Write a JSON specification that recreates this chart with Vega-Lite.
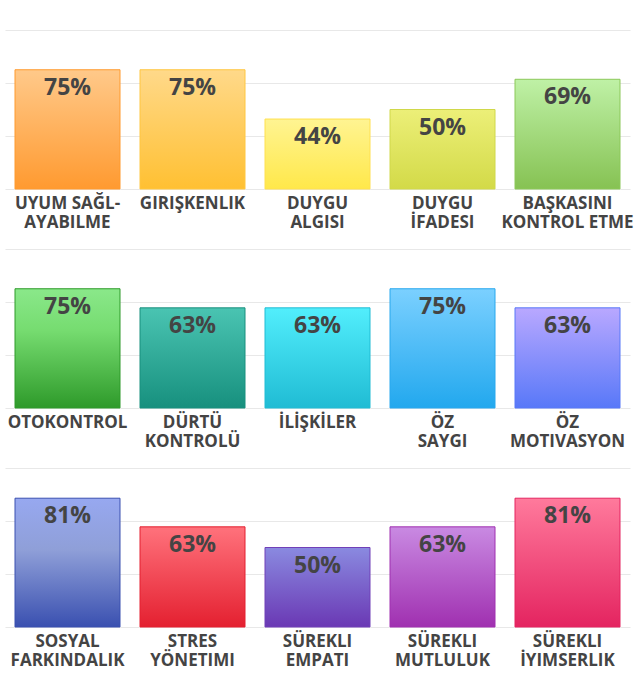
{
  "$schema": "https://vega.github.io/schema/vega-lite/v6.json",
  "background": "white",
  "padding": {"top": 30, "left": 5, "right": 5, "bottom": 0},
  "autosize": {"type": "pad"},
  "bounds": "flush",
  "spacing": 60,
  "data": {
    "values": [
      {"row": 1, "name": "UYUM SAĞL-|AYABILME", "value": 0.75},
      {"row": 1, "name": "GIRIŞKENLIK", "value": 0.75},
      {"row": 1, "name": "DUYGU|ALGISI", "value": 0.44},
      {"row": 1, "name": "DUYGU|İFADESI", "value": 0.50},
      {"row": 1, "name": "BAŞKASINI|KONTROL ETME", "value": 0.69},
      {"row": 2, "name": "OTOKONTROL", "value": 0.75},
      {"row": 2, "name": "DÜRTÜ|KONTROLÜ", "value": 0.63},
      {"row": 2, "name": "İLİŞKİLER", "value": 0.63},
      {"row": 2, "name": "ÖZ|SAYGI", "value": 0.75},
      {"row": 2, "name": "ÖZ|MOTIVASYON", "value": 0.63},
      {"row": 3, "name": "SOSYAL|FARKINDALIK", "value": 0.81},
      {"row": 3, "name": "STRES|YÖNETIMI", "value": 0.63},
      {"row": 3, "name": "SÜREKLI|EMPATI", "value": 0.50},
      {"row": 3, "name": "SÜREKLI|MUTLULUK", "value": 0.63},
      {"row": 3, "name": "SÜREKLI|İYIMSERLIK", "value": 0.81}
    ]
  },
  "facet": {
    "row": {
      "field": "row",
      "type": "ordinal",
      "sort": null,
      "header": {"labels": false, "title": null}
    }
  },
  "spec": {
    "width": 625,
    "height": 159,
    "encoding": {
      "x": {
        "field": "name",
        "type": "nominal",
        "sort": null,
        "scale": {"paddingInner": 0.16, "paddingOuter": 0.08},
        "axis": {
          "title": null,
          "labelAngle": 0,
          "labelExpr": "split(datum.label, '|')",
          "labelFont": "Open Sans",
          "labelFontSize": 17,
          "labelFontWeight": "bold",
          "labelColor": "#444444",
          "labelLineHeight": 19,
          "labelPadding": 6,
          "labelLimit": 200,
          "labelOverlap": false,
          "domain": false,
          "ticks": false,
          "grid": false
        }
      },
      "y": {
        "field": "value",
        "type": "quantitative",
        "scale": {"domain": [0, 1], "nice": false},
        "axis": {
          "title": null,
          "labels": false,
          "ticks": false,
          "domain": false,
          "grid": true,
          "values": [0, 0.3333, 0.6667, 1],
          "gridColor": "#e8e8e8",
          "gridWidth": 1.2
        }
      }
    },
    "layer": [
      {
        "mark": {"type": "bar", "strokeWidth": 1},
        "encoding": {
          "fill": {
            "condition": [
              {"test": "datum.name === 'UYUM SAĞL-|AYABILME'", "value": {"gradient": "linear", "x1": 0, "y1": 0, "x2": 0, "y2": 1, "stops": [{"offset": 0, "color": "#ffc98a"}, {"offset": 1, "color": "#ff9a30"}]}},
              {"test": "datum.name === 'GIRIŞKENLIK'", "value": {"gradient": "linear", "x1": 0, "y1": 0, "x2": 0, "y2": 1, "stops": [{"offset": 0, "color": "#ffd98a"}, {"offset": 1, "color": "#ffc032"}]}},
              {"test": "datum.name === 'DUYGU|ALGISI'", "value": {"gradient": "linear", "x1": 0, "y1": 0, "x2": 0, "y2": 1, "stops": [{"offset": 0, "color": "#fff492"}, {"offset": 1, "color": "#ffe84a"}]}},
              {"test": "datum.name === 'DUYGU|İFADESI'", "value": {"gradient": "linear", "x1": 0, "y1": 0, "x2": 0, "y2": 1, "stops": [{"offset": 0, "color": "#ecef78"}, {"offset": 1, "color": "#d3da48"}]}},
              {"test": "datum.name === 'BAŞKASINI|KONTROL ETME'", "value": {"gradient": "linear", "x1": 0, "y1": 0, "x2": 0, "y2": 1, "stops": [{"offset": 0, "color": "#bff1a6"}, {"offset": 1, "color": "#86c253"}]}},
              {"test": "datum.name === 'OTOKONTROL'", "value": {"gradient": "linear", "x1": 0, "y1": 0, "x2": 0, "y2": 1, "stops": [{"offset": 0, "color": "#8ae88a"}, {"offset": 0.35, "color": "#76dc70"}, {"offset": 1, "color": "#2e9a2a"}]}},
              {"test": "datum.name === 'DÜRTÜ|KONTROLÜ'", "value": {"gradient": "linear", "x1": 0, "y1": 0, "x2": 0, "y2": 1, "stops": [{"offset": 0, "color": "#4ac4b2"}, {"offset": 1, "color": "#17907e"}]}},
              {"test": "datum.name === 'İLİŞKİLER'", "value": {"gradient": "linear", "x1": 0, "y1": 0, "x2": 0, "y2": 1, "stops": [{"offset": 0, "color": "#52eefc"}, {"offset": 1, "color": "#20bcd4"}]}},
              {"test": "datum.name === 'ÖZ|SAYGI'", "value": {"gradient": "linear", "x1": 0, "y1": 0, "x2": 0, "y2": 1, "stops": [{"offset": 0, "color": "#7bd0ff"}, {"offset": 1, "color": "#22a8ee"}]}},
              {"test": "datum.name === 'ÖZ|MOTIVASYON'", "value": {"gradient": "linear", "x1": 0, "y1": 0, "x2": 0, "y2": 1, "stops": [{"offset": 0, "color": "#b9a8ff"}, {"offset": 1, "color": "#5878f8"}]}},
              {"test": "datum.name === 'SOSYAL|FARKINDALIK'", "value": {"gradient": "linear", "x1": 0, "y1": 0, "x2": 0, "y2": 1, "stops": [{"offset": 0, "color": "#97a8f0"}, {"offset": 0.4, "color": "#8f9fd8"}, {"offset": 1, "color": "#3a50b0"}]}},
              {"test": "datum.name === 'STRES|YÖNETIMI'", "value": {"gradient": "linear", "x1": 0, "y1": 0, "x2": 0, "y2": 1, "stops": [{"offset": 0, "color": "#ff727c"}, {"offset": 1, "color": "#e42030"}]}},
              {"test": "datum.name === 'SÜREKLI|EMPATI'", "value": {"gradient": "linear", "x1": 0, "y1": 0, "x2": 0, "y2": 1, "stops": [{"offset": 0, "color": "#8a8ae0"}, {"offset": 1, "color": "#6a38b4"}]}},
              {"test": "datum.name === 'SÜREKLI|MUTLULUK'", "value": {"gradient": "linear", "x1": 0, "y1": 0, "x2": 0, "y2": 1, "stops": [{"offset": 0, "color": "#c98ae2"}, {"offset": 1, "color": "#a030b0"}]}},
              {"test": "datum.name === 'SÜREKLI|İYIMSERLIK'", "value": {"gradient": "linear", "x1": 0, "y1": 0, "x2": 0, "y2": 1, "stops": [{"offset": 0, "color": "#ff7a9c"}, {"offset": 1, "color": "#e42460"}]}}
            ],
            "value": "#cccccc"
          },
          "stroke": {
            "field": "name",
            "type": "nominal",
            "legend": null,
            "scale": {
              "domain": ["UYUM SAĞL-|AYABILME", "GIRIŞKENLIK", "DUYGU|ALGISI", "DUYGU|İFADESI", "BAŞKASINI|KONTROL ETME", "OTOKONTROL", "DÜRTÜ|KONTROLÜ", "İLİŞKİLER", "ÖZ|SAYGI", "ÖZ|MOTIVASYON", "SOSYAL|FARKINDALIK", "STRES|YÖNETIMI", "SÜREKLI|EMPATI", "SÜREKLI|MUTLULUK", "SÜREKLI|İYIMSERLIK"],
              "range": ["#ff9a2e", "#ffc640", "#ffe050", "#d0d84a", "#8cc85a", "#2e9a2a", "#18907e", "#20bcd4", "#28a8ee", "#5878f8", "#3a50b0", "#e42030", "#7040b8", "#a030b0", "#e42460"]
            }
          }
        }
      },
      {
        "mark": {
          "type": "text",
          "baseline": "alphabetic",
          "dy": 25,
          "font": "Open Sans",
          "fontSize": 23,
          "fontWeight": "bold",
          "fill": "#444444"
        },
        "encoding": {
          "text": {"field": "value", "type": "quantitative", "format": ".0%"}
        }
      }
    ]
  },
  "resolve": {
    "scale": {"x": "independent"},
    "axis": {"x": "independent"}
  },
  "config": {
    "view": {"stroke": null},
    "font": "Open Sans"
  }
}
